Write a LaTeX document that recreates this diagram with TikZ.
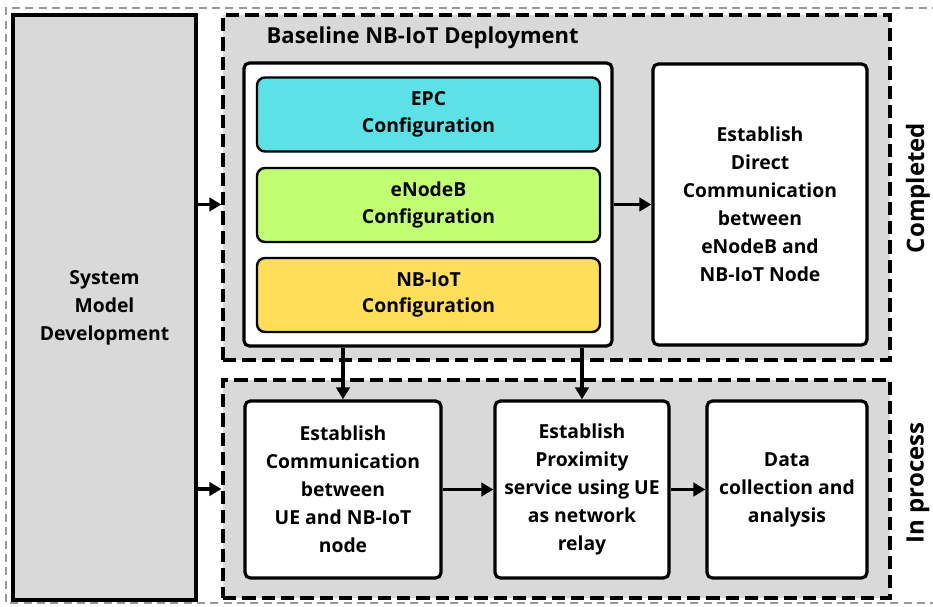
\documentclass[tikz,border=0pt]{standalone}
\usepackage{fontspec}
\setmainfont{Open Sans}
\usetikzlibrary{arrows.meta}

\definecolor{panelgray}{HTML}{D9D9D9}
\definecolor{epccyan}{HTML}{5CE1E6}
\definecolor{enbgreen}{HTML}{C1FF72}
\definecolor{iotyellow}{HTML}{FFDE59}

\tikzset{
    blockbox/.style={draw=black, line width=2.4pt, align=center,
        font=\bfseries\fontsize{14.5}{21}\selectfont},
    stagebox/.style={draw=black, line width=2.4pt, fill=panelgray,
        dash pattern=on 10pt off 4.5pt},
    cfgbox/.style={blockbox, rounded corners=6pt, line width=1.8pt,
        minimum width=343*0.75pt, minimum height=74*0.75pt,
        font=\bfseries\fontsize{14.5}{20}\selectfont},
    arr/.style={line width=2.4pt, -{Triangle[length=9pt,width=10pt]}},
}

\begin{document}
\begin{tikzpicture}[x=0.75pt, y=-0.75pt]
    \useasboundingbox (0,0) rectangle (933,607);
    \clip (0,0) rectangle (933,607);
    % outer frame, open on the right
    \draw[gray!80, line width=1.2pt, dash pattern=on 6pt off 4pt]
        (940,8) -- (6,8) -- (6,603) -- (940,603);

    % left column
    \node[blockbox, fill=panelgray, minimum width=183*0.75pt, minimum height=585*0.75pt]
        (sysbox) at (104.5,307.5) {System\\Model\\Development};

    % stage panels
    \node[stagebox, minimum width=667*0.75pt, minimum height=345*0.75pt]
        (topgrp) at (556.5,187.5) {};
    \node[stagebox, minimum width=667*0.75pt, minimum height=218*0.75pt]
        (botgrp) at (556.5,489) {};
    \node[anchor=west, font=\bfseries\fontsize{16.5}{18}\selectfont]
        (deploylbl) at (262,38) {Baseline NB-IoT Deployment};

    % baseline deployment
    \node[blockbox, fill=white, rounded corners=4pt, minimum width=368*0.75pt, minimum height=283*0.75pt]
        (cfgpanel) at (428,204.5) {};
    \node[cfgbox, fill=epccyan] (epc) at (428.5,114.5) {EPC\\Configuration};
    \node[cfgbox, fill=enbgreen] (enb) at (428.5,205) {eNodeB\\Configuration};
    \node[cfgbox, fill=iotyellow] (nbiot) at (428.5,295) {NB-IoT\\Configuration};
    \node[blockbox, fill=white, rounded corners=4pt, minimum width=214*0.75pt, minimum height=281*0.75pt]
        (direct) at (760,204.5) {Establish\\Direct\\Communication\\between\\eNodeB and\\NB-IoT Node};

    % work in process
    \node[blockbox, fill=white, rounded corners=4pt, minimum width=196*0.75pt, minimum height=177*0.75pt]
        (uecomm) at (343,489.5) {Establish\\Communication\\between\\UE and NB-IoT\\node};
    \node[blockbox, fill=white, rounded corners=4pt, minimum width=174*0.75pt, minimum height=177*0.75pt]
        (prose) at (582,489.5) {Establish\\Proximity\\service using UE\\as network\\relay};
    \node[blockbox, fill=white, rounded corners=4pt, minimum width=160*0.75pt, minimum height=177*0.75pt]
        (datacol) at (787,489.5) {Data\\collection and\\analysis};

    % side labels
    \node[rotate=90, font=\bfseries\fontsize{18}{20}\selectfont] (donelbl) at (918,188) {Completed};
    \node[rotate=90, font=\bfseries\fontsize{18}{20}\selectfont] (proclbl) at (918,483) {In process};

    % arrows
    \draw[arr] (sysbox.east |- cfgpanel.center) -- (topgrp.west |- cfgpanel.center);
    \draw[arr] (sysbox.east |- botgrp.center) -- (botgrp.west);
    \draw[arr] (cfgpanel.east) -- (direct.west);
    \draw[arr] (cfgpanel.south -| uecomm.north) -- (uecomm.north);
    \draw[arr] (cfgpanel.south -| prose.north) -- (prose.north);
    \draw[arr] (uecomm.east) -- (prose.west);
    \draw[arr] (prose.east) -- (datacol.west);
\end{tikzpicture}
\end{document}
